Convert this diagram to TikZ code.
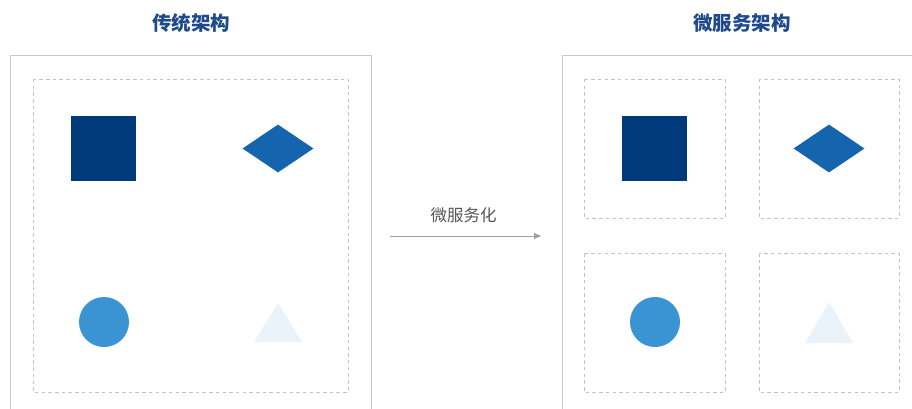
\documentclass[tikz,border=0pt]{standalone}
\usepackage{fontspec}
\newfontfamily\cjk{Noto Sans CJK SC}
\usetikzlibrary{shapes.geometric,arrows.meta}
\definecolor{titleblue}{HTML}{1E4A8A}
\definecolor{sqblue}{HTML}{003A7B}
\definecolor{diablue}{HTML}{1565AE}
\definecolor{cirblue}{HTML}{3A93D3}
\definecolor{triblue}{HTML}{EAF2FA}
\definecolor{outergray}{HTML}{C8C8C8}
\definecolor{dashgray}{HTML}{C4C4C4}
\definecolor{arrowgray}{HTML}{A0A0A0}
\definecolor{labelgray}{HTML}{555555}
\tikzset{
  titletext/.style={font=\cjk\bfseries\fontsize{19.5}{22}\selectfont, text=titleblue, inner sep=0pt},
  labeltext/.style={font=\cjk\fontsize{16.5}{19}\selectfont, text=labelgray, inner sep=0pt},
  outerline/.style={draw=outergray, line width=1pt},
  dashbox/.style={draw=dashgray, line width=0.8pt, dash pattern=on 3.5pt off 3.2pt},
  sqshape/.style={fill=sqblue, minimum width=65pt, minimum height=65pt, inner sep=0pt, draw=none},
  diashape/.style={diamond, fill=diablue, minimum width=71pt, minimum height=48pt, inner sep=0pt, draw=none, aspect=1.48},
  cirshape/.style={circle, fill=cirblue, minimum size=50pt, inner sep=0pt, draw=none},
  trishape/.style={fill=triblue, draw=none},
  flowarrow/.style={draw=arrowgray, line width=0.8pt, -{Triangle[length=7pt,width=6pt]}}
}
\begin{document}
\begin{tikzpicture}[x=1pt,y=-1pt]
\useasboundingbox (0,0) rectangle (912,409);
% titles
\node[titletext] (t1) at (191,23) {传统架构};
\node[titletext] (t2) at (742,23) {微服务架构};
% outer boxes (open at bottom)
\coordinate (o1a) at (10,409); \coordinate (o1b) at (10,56);
\coordinate (o1c) at (371,56); \coordinate (o1d) at (371,409);
\draw[outerline] (o1a) -- (o1b) -- (o1c) -- (o1d);
\coordinate (o2a) at (562,409); \coordinate (o2b) at (562,56);
\coordinate (o2c) at (912,56);
\draw[outerline] (o2a) -- (o2b) -- (o2c);
% left dashed box
\draw[dashbox] (33,79) rectangle (348,392);
% right dashed boxes
\draw[dashbox] (584,79) rectangle (725,218);
\draw[dashbox] (759,79) rectangle (899,218);
\draw[dashbox] (584,253) rectangle (725,392);
\draw[dashbox] (759,253) rectangle (899,392);
% left shapes
\node[sqshape] (sq1) at (103.5,148.5) {};
\node[diashape] (d1) at (278,148.5) {};
\node[cirshape] (c1) at (104,322) {};
\fill[trishape] (278,303) -- (302,342) -- (254,342) -- cycle;
% right shapes
\node[sqshape] (sq2) at (654.5,148.5) {};
\node[diashape] (d2) at (829,148.5) {};
\node[cirshape] (c2) at (655,322) {};
\fill[trishape] (829,302) -- (853,343) -- (805,343) -- cycle;
% arrow
\node[labeltext] (lab) at (463.5,215) {微服务化};
\coordinate (as) at (390,236);
\coordinate (ae) at (541,236);
\draw[flowarrow] (as) -- (ae);
\end{tikzpicture}
\end{document}
